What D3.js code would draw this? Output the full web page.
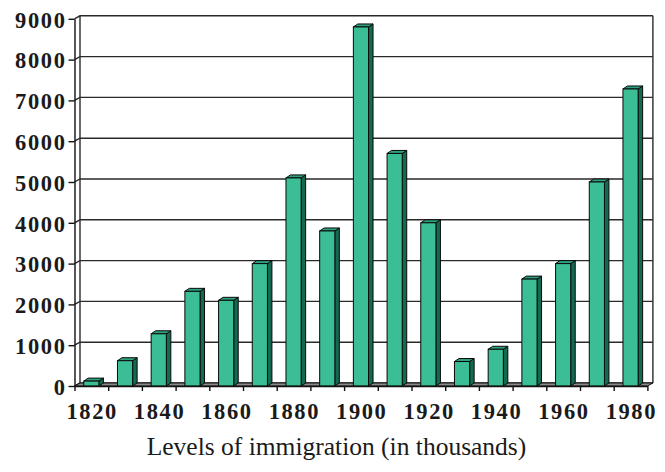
<!DOCTYPE html>
<html>
<head>
<meta charset="utf-8">
<script src="https://cdn.jsdelivr.net/npm/d3@7/dist/d3.min.js"></script>
<style>
  html, body { margin: 0; padding: 0; background: #fff; }
  svg { display: block; }
</style>
</head>
<body>
<svg id="chart" width="665" height="472"></svg>
<script>
// Immigration by decade (thousands)
const years = [1820, 1830, 1840, 1850, 1860, 1870, 1880, 1890, 1900,
               1910, 1920, 1930, 1940, 1950, 1960, 1970, 1980];
const immigrants = [120, 620, 1280, 2320, 2100, 3000, 5100, 3800, 8800,
                    5700, 4000, 600, 900, 2620, 3000, 5000, 7280];
const yTicks = [0, 1000, 2000, 3000, 4000, 5000, 6000, 7000, 8000, 9000];
const xLabels = [1820, 1840, 1860, 1880, 1900, 1920, 1940, 1960, 1980];
const caption = "Levels of immigration (in thousands)";

const svg = d3.select("#chart");

// front plane of the 3-D box, and depth offset to the back wall
const plotLeft = 74.5, plotRight = 647.4, plotBottom = 386, plotTop = 18.8;
const depthX = 5.5, depthY = 3;       // wall depth
const barDX = 4.5, barDY = 3;         // bar depth

const x = d3.scaleBand().domain(years).range([plotLeft, plotRight])
  .paddingInner(0.55).paddingOuter(0.275);
const xEdge = d3.scaleLinear().domain([0, years.length]).range([plotLeft, plotRight]);
const y = d3.scaleLinear().domain([0, 9000]).range([plotBottom, plotTop]);

const gridColor = "#2a2a2a";
const serif = "'Liberation Serif', 'Times New Roman', serif";

// back wall
svg.append("rect")
  .attr("x", plotLeft + depthX).attr("y", plotTop - depthY)
  .attr("width", plotRight - plotLeft).attr("height", plotBottom - plotTop)
  .attr("fill", "#fff");

// gridlines on back wall + left wall
const grid = svg.append("g");
yTicks.forEach(t => {
  const yb = y(t) - depthY;
  grid.append("path")
    .attr("d", `M${plotLeft},${y(t)} L${plotLeft + depthX},${yb} L${plotRight + depthX},${yb}`)
    .attr("fill", "none").attr("stroke", gridColor).attr("stroke-width", 1.4);
});
// back wall verticals
[plotLeft + depthX, plotRight + depthX].forEach(xv => {
  grid.append("line")
    .attr("x1", xv).attr("x2", xv)
    .attr("y1", plotTop - depthY).attr("y2", plotBottom - depthY)
    .attr("stroke", gridColor).attr("stroke-width", 1.4);
});

// floor
svg.append("path")
  .attr("d", `M${plotLeft},${plotBottom} L${plotLeft + depthX},${plotBottom - depthY} L${plotRight + depthX},${plotBottom - depthY} L${plotRight},${plotBottom} Z`)
  .attr("fill", "#8a8a8a").attr("stroke", "#111").attr("stroke-width", 1);

// bars
const bars = svg.append("g").selectAll("g")
  .data(years.map((yr, i) => ({ yr, v: immigrants[i] })))
  .join("g");
const bw = x.bandwidth();

bars.append("path") // side face
  .attr("d", d => {
    const x1 = x(d.yr) + bw, yt = y(d.v);
    return `M${x1},${yt} L${x1 + barDX},${yt - barDY} L${x1 + barDX},${plotBottom - barDY} L${x1},${plotBottom} Z`;
  })
  .attr("fill", "#136a51").attr("stroke", "#0a0a0a").attr("stroke-width", 1).attr("stroke-linejoin", "round");

bars.append("path") // top face
  .attr("d", d => {
    const x0 = x(d.yr), yt = y(d.v);
    return `M${x0},${yt} L${x0 + barDX},${yt - barDY} L${x0 + bw + barDX},${yt - barDY} L${x0 + bw},${yt} Z`;
  })
  .attr("fill", "#2ea07f").attr("stroke", "#0a0a0a").attr("stroke-width", 1).attr("stroke-linejoin", "round");

bars.append("rect") // front face
  .attr("x", d => x(d.yr)).attr("y", d => y(d.v))
  .attr("width", bw).attr("height", d => plotBottom - y(d.v))
  .attr("fill", "#3bbd96").attr("stroke", "#0a0a0a").attr("stroke-width", 1);

// y axis (front edge)
const yAxis = svg.append("g").attr("transform", `translate(${plotLeft},0)`)
  .call(d3.axisLeft(y).tickValues(yTicks).tickSize(6).tickSizeOuter(0).tickPadding(5).tickFormat(d3.format("d")));
yAxis.select(".domain").attr("stroke", "#111").attr("stroke-width", 1.4);
yAxis.selectAll(".tick line").attr("stroke", "#111").attr("stroke-width", 1.4);
yAxis.selectAll(".tick text")
  .attr("font-family", serif)
  .attr("font-weight", "bold").attr("font-size", "22.5px")
  .attr("letter-spacing", "1.6px").attr("fill", "#1a1a1a")
  .attr("x", -8).attr("dy", "0.37em");

// x axis: ticks on decade boundaries
const xTickAxis = svg.append("g").attr("transform", `translate(0,${plotBottom})`)
  .call(d3.axisBottom(xEdge).tickValues(d3.range(years.length + 1)).tickSize(5).tickSizeOuter(0).tickFormat(""));
xTickAxis.select(".domain").attr("stroke", "#111").attr("stroke-width", 1.4);
xTickAxis.selectAll(".tick line").attr("stroke", "#111").attr("stroke-width", 1.4);

// x axis labels at every other decade
const xLabelAxis = svg.append("g").attr("transform", `translate(0,${plotBottom})`)
  .call(d3.axisBottom(x).tickValues(xLabels).tickSize(0).tickPadding(17).tickFormat(d3.format("d")));
xLabelAxis.select(".domain").remove();
xLabelAxis.selectAll(".tick text")
  .attr("font-family", serif)
  .attr("font-weight", "bold").attr("font-size", "22.5px")
  .attr("letter-spacing", "1.6px").attr("fill", "#1a1a1a")
  .attr("dx", "0.8px");

// caption
svg.append("text")
  .attr("x", 336.5).attr("y", 455)
  .attr("text-anchor", "middle")
  .attr("font-family", serif)
  .attr("font-size", "25.5px").attr("fill", "#1a1a1a")
  .text(caption);
</script>
</body>
</html>
